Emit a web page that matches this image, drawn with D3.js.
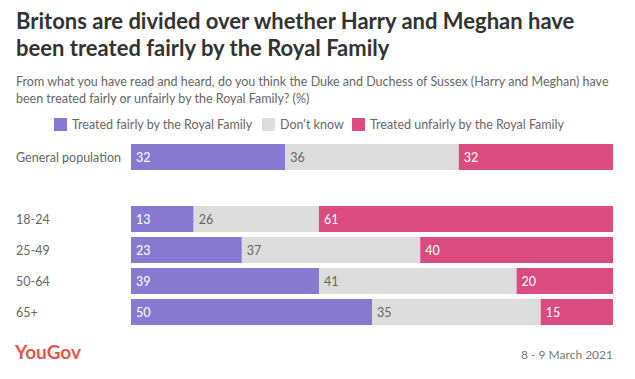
<!DOCTYPE html>
<html>
<head>
<meta charset="utf-8">
<script src="https://cdn.jsdelivr.net/npm/d3@7"></script>
<style>
  body { margin: 0; background: #fff; }
  text { font-family: Lato, "Open Sans", sans-serif; }
</style>
</head>
<body>
<div id="chart"></div>
<script>
//Chart data
var groups = ["General population", "18-24", "25-49", "50-64", "65+"];
var fairly = [32, 13, 23, 39, 50];
var dontKnow = [36, 26, 37, 41, 35];
var unfairly = [32, 61, 40, 20, 15];
var seriesNames = ["Treated fairly by the Royal Family", "Don't know", "Treated unfairly by the Royal Family"];
var colors = ["#8779d0", "#dcdcdc", "#da4b80"];
var labelColors = ["#fff", "#666", "#fff"];

var width = 635, height = 379;

var svg = d3.select("#chart").append("svg")
    .attr("width", width)
    .attr("height", height);

//Title and subtitle
var title = svg.append("text")
    .attr("x", 16)
    .attr("y", 29)
    .style("font-size", "22px")
    .style("font-weight", "bold")
    .style("fill", "#333");
title.append("tspan").attr("x", 16).text("Britons are divided over whether Harry and Meghan have");
title.append("tspan").attr("x", 16).attr("dy", 27).text("been treated fairly by the Royal Family");

var sub = svg.append("text")
    .attr("x", 16)
    .attr("y", 86)
    .style("font-size", "12.5px")
    .style("fill", "#666");
sub.append("tspan").attr("x", 16).text("From what you have read and heard, do you think the Duke and Duchess of Sussex (Harry and Meghan) have");
sub.append("tspan").attr("x", 16).attr("dy", 17).text("been treated fairly or unfairly by the Royal Family? (%)");

//Legend
var legendX = [54, 262, 352];
var legend = svg.selectAll(".legend")
    .data(seriesNames)
    .enter()
    .append("g")
    .attr("class", "legend")
    .attr("transform", function(d, i) { return "translate(" + legendX[i] + ",118)"; });

legend.append("rect")
    .attr("width", 13)
    .attr("height", 13)
    .style("fill", function(d, i) { return colors[i]; });

legend.append("text")
    .attr("x", 18)
    .attr("y", 11)
    .style("font-size", "12.5px")
    .style("fill", "#666")
    .text(function(d) { return d; });

//Rows: general population first, then an empty slot, then the age groups
var rows = groups.map(function(g, i) {
    return { name: g, slot: i == 0 ? 0 : i + 1, values: [fairly[i], dontKnow[i], unfairly[i]] };
});

var x = d3.scaleLinear()
    .domain([0, 100])
    .range([131, 613]);

var y = d3.scaleBand()
    .domain(d3.range(6))
    .range([144, 325])
    .paddingInner(5 / 31)
    .paddingOuter(0);

var stack = d3.stack().keys([0, 1, 2]).value(function(d, k) { return d.values[k]; });
var layers = stack(rows);

var layer = svg.selectAll(".layer")
    .data(layers)
    .enter()
    .append("g")
    .attr("class", "layer");

layer.selectAll("rect")
    .data(function(d) { return d; })
    .enter()
    .append("rect")
    .attr("x", function(d) { return x(d[0]); })
    .attr("y", function(d) { return y(d.data.slot); })
    .attr("width", function(d) { return x(d[1]) - x(d[0]); })
    .attr("height", y.bandwidth())
    .style("fill", function(d) { return colors[d3.select(this.parentNode).datum().key]; });

layer.selectAll(".val")
    .data(function(d) { return d.map(function(s) { return { s: s, key: d.key }; }); })
    .enter()
    .append("text")
    .attr("class", "val")
    .attr("x", function(d) { return x(d.s[0]) + 5; })
    .attr("y", function(d) { return y(d.s.data.slot) + y.bandwidth() / 2 + 4.5; })
    .style("font-size", "12.5px")
    .style("fill", function(d) { return labelColors[d.key]; })
    .text(function(d) { return d.s[1] - d.s[0]; });

//Category labels
svg.selectAll(".cat")
    .data(rows)
    .enter()
    .append("text")
    .attr("class", "cat")
    .attr("x", 16)
    .attr("y", function(d) { return y(d.slot) + y.bandwidth() / 2 + 4.5; })
    .style("font-size", "12.5px")
    .style("fill", "#666")
    .text(function(d) { return d.name; });

//Footer
svg.append("text")
    .attr("x", 15)
    .attr("y", 359)
    .style("font-size", "19px")
    .style("font-weight", "bold")
    .style("fill", "#e2574c")
    .text("YouGov");

svg.append("text")
    .attr("x", 613)
    .attr("y", 359)
    .attr("text-anchor", "end")
    .style("font-size", "12px")
    .style("fill", "#777")
    .text("8 - 9 March 2021");
</script>
</body>
</html>
